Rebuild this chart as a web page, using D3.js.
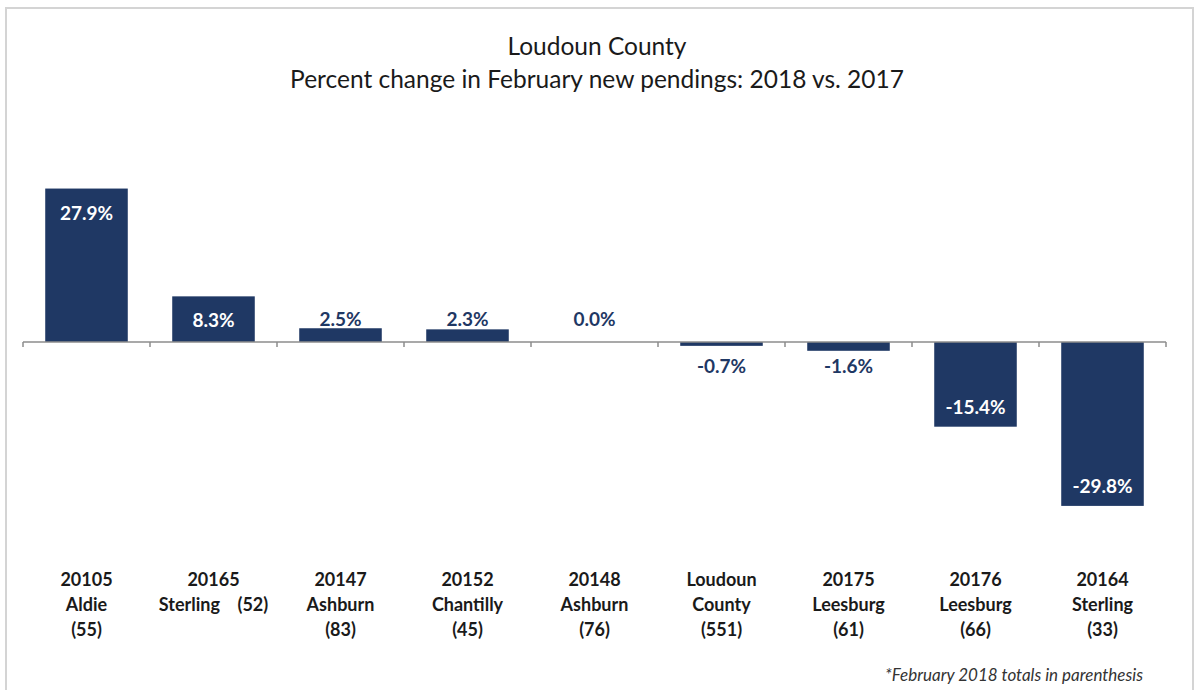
<!DOCTYPE html>
<html>
<head>
<meta charset="utf-8">
<script src="https://cdn.jsdelivr.net/npm/d3@7"></script>
<style>
  html, body { margin: 0; padding: 0; background: #fff; }
  svg { display: block; font-family: Lato, "Open Sans", sans-serif; }
</style>
</head>
<body>
<svg id="chart" width="1195" height="690"></svg>
<script>
const zipCodes = ["20105", "20165", "20147", "20152", "20148", "Loudoun", "20175", "20176", "20164"];
const places   = ["Aldie", "Sterling    (52)", "Ashburn", "Chantilly", "Ashburn", "County", "Leesburg", "Leesburg", "Sterling"];
const totals   = ["(55)", "", "(83)", "(45)", "(76)", "(551)", "(61)", "(66)", "(33)"];
const pctChange = [27.9, 8.3, 2.5, 2.3, 0.0, -0.7, -1.6, -15.4, -29.8];
const titleLines = ["Loudoun County", "Percent change in February new pendings: 2018 vs. 2017"];
const footnote = "*February 2018 totals in parenthesis";

const navy = "#1f3864";
const svg = d3.select("#chart");

// frame
svg.append("rect").attr("x", 6).attr("y", 8).attr("width", 1187).attr("height", 690)
  .attr("fill", "none").attr("stroke", "#d4d4d4").attr("stroke-width", 2);

// titles
svg.selectAll("text.title").data(titleLines).join("text")
  .attr("class", "title")
  .attr("x", 597).attr("y", (d, i) => 55 + i * 33)
  .attr("text-anchor", "middle").attr("font-size", 24.5).attr("fill", "#1a1a1a")
  .text(d => d);

const idx = d3.range(pctChange.length);
const x = d3.scaleBand().domain(idx).range([23, 1166]).paddingInner(0.35).paddingOuter(0.175);
const y = d3.scaleLinear().domain([-30, 30]).range([507, 177]);

// bars
svg.selectAll("rect.bar").data(idx).join("rect")
  .attr("class", "bar")
  .attr("x", i => x(i))
  .attr("width", x.bandwidth())
  .attr("y", i => y(Math.max(0, pctChange[i])))
  .attr("height", i => Math.abs(y(pctChange[i]) - y(0)))
  .attr("fill", navy);

// axis line with downward ticks at band boundaries
const axisG = svg.append("g").attr("transform", `translate(0,${y(0)})`);
axisG.append("line").attr("x1", 23).attr("x2", 1166).attr("stroke", "#8c8c8c").attr("stroke-width", 1.5);
const boundaries = d3.range(pctChange.length + 1).map(k => 23 + k * x.step());
axisG.selectAll("line.tick").data(boundaries).join("line")
  .attr("class", "tick")
  .attr("x1", d => d).attr("x2", d => d).attr("y1", 0).attr("y2", 5)
  .attr("stroke", "#8c8c8c").attr("stroke-width", 1.5);

// value labels
const fmt = v => v.toFixed(1) + "%";
svg.selectAll("text.val").data(idx).join("text")
  .attr("class", "val")
  .attr("x", i => x(i) + x.bandwidth() / 2)
  .attr("y", i => {
    const v = pctChange[i];
    if (v >= 5) return y(v) + 31;
    if (v >= 0) return y(0) - 16;
    if (v > -5) return y(0) + 31;
    return y(v) - 13;
  })
  .attr("text-anchor", "middle").attr("font-size", 19).attr("font-weight", 700)
  .attr("fill", i => Math.abs(pctChange[i]) >= 5 ? "#ffffff" : navy)
  .text(i => fmt(pctChange[i]));

// category labels (3 lines)
const catG = svg.selectAll("g.cat").data(idx).join("g")
  .attr("class", "cat")
  .attr("transform", i => `translate(${x(i) + x.bandwidth() / 2},0)`);
[zipCodes, places, totals].forEach((arr, line) => {
  catG.append("text")
    .attr("y", 586 + line * 25)
    .attr("text-anchor", "middle").attr("font-size", 18).attr("font-weight", 700)
    .attr("fill", "#1a1a1a").attr("xml:space", "preserve")
    .style("white-space", "pre")
    .text(i => arr[i]);
});

// footnote
svg.append("text").attr("x", 1143).attr("y", 681)
  .attr("text-anchor", "end").attr("font-size", 17).attr("font-style", "italic")
  .attr("fill", "#333").text(footnote);
</script>
</body>
</html>
